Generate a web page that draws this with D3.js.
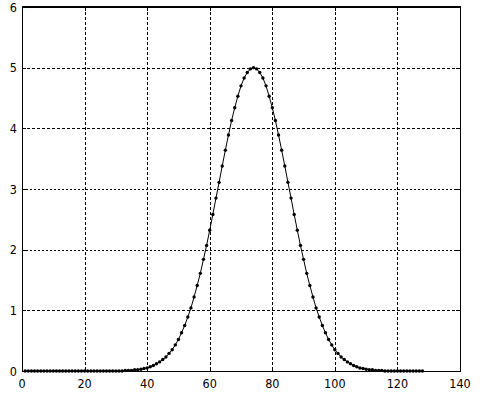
<!DOCTYPE html>
<html>
<head>
<meta charset="utf-8">
<script src="https://cdn.jsdelivr.net/npm/d3@7"></script>
<style>
  body { margin: 0; background: #fff; }
  svg text { font-family: "Liberation Sans Narrow", "DejaVu Sans Condensed", sans-serif; font-size: 12.5px; fill: #000; }
</style>
</head>
<body>
<script>
// curve samples, x = 1..128
var values = [
  0,0,0,0,0,0,0,0,0,0,0,0,0,0,0,0,
  0,0,0,0,0,0,0,0,0,0,0,0,0,0,0,0,
  0.01,0.01,0.01,0.02,0.02,0.03,0.04,0.05,0.07,0.09,0.12,0.15,0.19,0.23,0.29,0.35,
  0.43,0.52,0.63,0.75,0.89,1.04,1.22,1.41,1.61,1.84,2.07,2.32,2.58,2.85,3.11,3.38,
  3.64,3.89,4.13,4.34,4.53,4.70,4.83,4.92,4.98,5.00,4.98,4.92,4.83,4.70,4.53,4.34,
  4.13,3.89,3.64,3.38,3.11,2.85,2.58,2.32,2.07,1.84,1.61,1.41,1.22,1.04,0.89,0.75,
  0.63,0.52,0.43,0.35,0.29,0.23,0.19,0.15,0.12,0.09,0.07,0.05,0.04,0.03,0.02,0.02,
  0.01,0.01,0.01,0,0,0,0,0,0,0,0,0,0,0,0,0
];
var xTicks = [0, 20, 40, 60, 80, 100, 120, 140];
var yTicks = [0, 1, 2, 3, 4, 5, 6];

var W = 480, H = 398;
var pLeft = 22, pRight = 460, pTop = 7, pBottom = 371;

var x = d3.scaleLinear().domain([0, 140]).range([pLeft, pRight]);
var y = d3.scaleLinear().domain([0, 6]).range([pBottom, pTop]);

var svg = d3.select("body").append("svg")
    .attr("width", W)
    .attr("height", H);

// grid
svg.append("g").selectAll("line")
    .data(xTicks.slice(1, -1))
  .enter().append("line")
    .attr("x1", d => Math.round(x(d)) + 0.5)
    .attr("x2", d => Math.round(x(d)) + 0.5)
    .attr("y1", pTop)
    .attr("y2", pBottom)
    .attr("stroke", "#000")
    .attr("stroke-dasharray", "3,2");

svg.append("g").selectAll("line")
    .data(yTicks.slice(1, -1))
  .enter().append("line")
    .attr("x1", pLeft)
    .attr("x2", pRight)
    .attr("y1", d => Math.round(y(d)) + 0.5)
    .attr("y2", d => Math.round(y(d)) + 0.5)
    .attr("stroke", "#000")
    .attr("stroke-dasharray", d => (d == 2 || d == 3) ? "2,2" : "3,2");

// frame
svg.append("line").attr("x1", pLeft + 0.5).attr("x2", pLeft + 0.5).attr("y1", pTop).attr("y2", pBottom + 1).attr("stroke", "#000");
svg.append("line").attr("x1", pRight + 0.5).attr("x2", pRight + 0.5).attr("y1", pTop).attr("y2", pBottom + 1).attr("stroke", "#000");
svg.append("line").attr("x1", pLeft).attr("x2", pRight + 1).attr("y1", pBottom + 0.5).attr("y2", pBottom + 0.5).attr("stroke", "#000");
svg.append("line").attr("x1", pLeft).attr("x2", pRight + 1).attr("y1", pTop).attr("y2", pTop).attr("stroke", "#000").attr("stroke-width", 2);

// ticks
xTicks.forEach(function(d) {
  var px = Math.round(x(d)) + 0.5;
  svg.append("line").attr("x1", px).attr("x2", px).attr("y1", pBottom).attr("y2", pBottom - 4).attr("stroke", "#000");
  svg.append("line").attr("x1", px).attr("x2", px).attr("y1", pTop).attr("y2", pTop + 4).attr("stroke", "#000");
});
yTicks.forEach(function(d) {
  var py = Math.round(y(d)) + 0.5;
  svg.append("line").attr("x1", pLeft).attr("x2", pLeft + 4).attr("y1", py).attr("y2", py).attr("stroke", "#000");
  svg.append("line").attr("x1", pRight).attr("x2", pRight - 4).attr("y1", py).attr("y2", py).attr("stroke", "#000");
});

// tick labels
svg.append("g").selectAll("text")
    .data(xTicks)
  .enter().append("text")
    .attr("x", d => x(d))
    .attr("y", pBottom + 17)
    .attr("text-anchor", "middle")
    .text(d => d);

svg.append("g").selectAll("text")
    .data(yTicks)
  .enter().append("text")
    .attr("x", pLeft - 5)
    .attr("y", d => Math.max(y(d) + 4.5, 10))
    .attr("text-anchor", "end")
    .text(d => d);

// curve
var pts = values.map((v, i) => [i + 1, v]);

svg.append("path")
    .datum(pts)
    .attr("fill", "none")
    .attr("stroke", "#000")
    .attr("stroke-width", 1)
    .attr("d", d3.line().x(d => x(d[0])).y(d => y(d[1])));

svg.append("g").selectAll("circle")
    .data(pts)
  .enter().append("circle")
    .attr("cx", d => x(d[0]))
    .attr("cy", d => y(d[1]))
    .attr("r", 1.7)
    .attr("fill", "#000");
</script>
</body>
</html>
